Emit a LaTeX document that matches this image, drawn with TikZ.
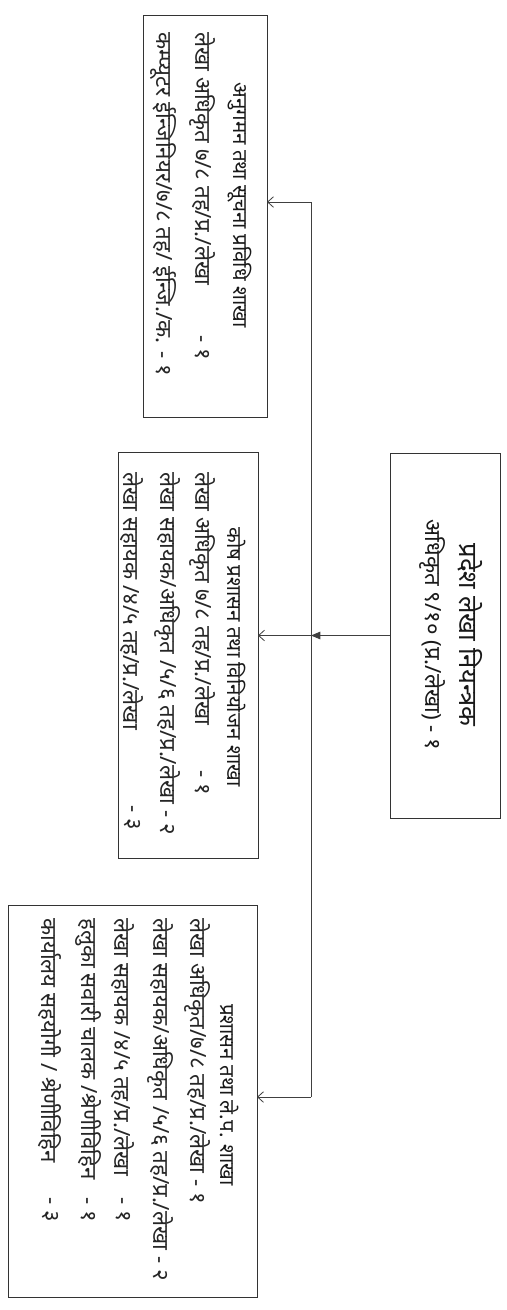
\documentclass[tikz,border=0pt]{standalone}
\usepackage{fontspec}
\newfontfamily\devfont[Script=Devanagari]{Noto Sans}
\usetikzlibrary{arrows.meta}

\begin{document}
\begin{tikzpicture}[
  x=0.03cm, y=-0.03cm, font=\devfont\fontsize{19}{22}\selectfont,
  unit/.style={draw=black!80, line width=0.8pt, inner sep=0pt, outer sep=0pt},
  row/.style={rotate=-90, anchor=west, inner sep=0pt, text=black!85},
  head/.style={rotate=-90, anchor=center, inner sep=0pt, text=black!90,
    font=\devfont\fontsize{17.5}{20}\selectfont},
  link/.style={draw=black!75, line width=0.7pt},
  feed/.style={link, -{Straight Barb[length=5pt,width=9pt]}},
  main/.style={link, -{Triangle[length=8pt,width=6.5pt]}}
]
  \useasboundingbox (0,0) rectangle (507,1310);

  %% ============================================ the controller
  \node[unit, minimum width=3.30cm, minimum height=10.95cm] (box4) at (445,635.5) {};
  \node[head, font=\devfont\fontsize{22}{24}\selectfont] (b4title) at (470,635) {प्रदेश लेखा नियन्त्रक};
  \node[head, font=\devfont\fontsize{19}{22}\selectfont] (b4sub) at (432,635) {अधिकृत ९/१० (प्र./लेखा) - १};

  %% ------------------------------------------------ monitoring and IT
  \node[unit, minimum width=3.72cm, minimum height=12.06cm] (box1) at (205,216) {};
  \node[head] (b1title) at (240,205) {अनुगमन तथा सूचना प्रविधि शाखा};
  \node[row] (b1r1) at (202,32) {लेखा अधिकृत ७/८ तह/प्र./लेखा};
  \node[row] (b1v1) at (202,335) {- १};
  \node[row] (b1r2) at (163,32) {कम्प्यूटर ईन्जिनियर/७/८ तह/ ईन्जि./क. - १};

  %% ------------------------------------------------ treasury
  \node[unit, minimum width=4.20cm, minimum height=12.18cm] (box2) at (188,655) {};
  \node[head] (b2title) at (237,657) {कोष प्रशासन तथा विनियोजन शाखा};
  \node[row] (b2r1) at (202,472) {लेखा अधिकृत ७/८ तह/प्र./लेखा};
  \node[row] (b2v1) at (202,770) {- १};
  \node[row] (b2r2) at (167,472) {लेखा सहायक/अधिकृत /५/६ तह/प्र./लेखा - २};
  \node[row] (b2r3) at (132,472) {लेखा सहायक /४/५ तह/प्र./लेखा};
  \node[row] (b2v3) at (132,805) {- ३};

  %% ------------------------------------------------ administration
  \node[unit, minimum width=7.47cm, minimum height=11.76cm] (box3) at (132.5,1101) {};
  \node[head] (b3title) at (230,1095) {प्रशासन तथा ले.प. शाखा};
  \node[row] (b3r1) at (197,918) {लेखा अधिकृत/७/८ तह/प्र./लेखा - १};
  \node[row] (b3r2) at (160,918) {लेखा सहायक/अधिकृत /५/६ तह/प्र./लेखा - २};
  \node[row] (b3r3) at (123,918) {लेखा सहायक /४/५ तह/प्र./लेखा};
  \node[row] (b3v3) at (123,1197) {- १};
  \node[row] (b3r4) at (88,918) {हलुका सवारी चालक /श्रेणीविहिन};
  \node[row] (b3v4) at (88,1197) {- १};
  \node[row] (b3r5) at (50,918) {कार्यालय सहयोगी / श्रेणीविहिन};
  \node[row] (b3v5) at (50,1197) {- ३};

  %% ============================================ the spine
  \coordinate (spinetop) at (311,202);
  \coordinate (spinebot) at (311,1097);
  \draw[link] (spinetop) -- (spinebot);
  \draw[feed] (spinetop) -- (box1.east |- spinetop);
  \draw[main] (box4.west) -- (spinetop |- box4.west);
  \draw[feed] (spinetop |- box4.west) -- (box2.east |- box4.west);
  \draw[feed] (spinebot) -- (box3.east |- spinebot);

\end{tikzpicture}
\end{document}
